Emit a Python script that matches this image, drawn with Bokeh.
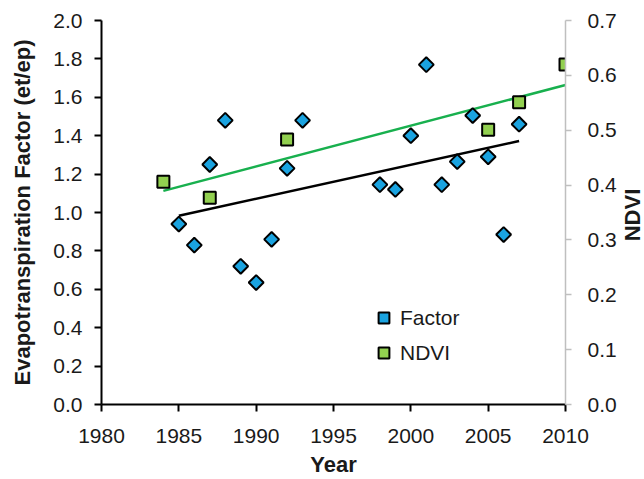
import numpy as np
from bokeh.plotting import figure
from bokeh.models import (Range1d, LinearAxis, FixedTicker, Legend, LegendItem,
                          NumeralTickFormatter, Label)
from bokeh.embed import file_html
from bokeh.resources import INLINE

# ---- data ----
factor_years = [1985, 1986, 1987, 1988, 1989, 1990, 1991, 1992, 1993,
                1998, 1999, 2000, 2001, 2002, 2003, 2004, 2005, 2006, 2007]
factor_values = [0.94, 0.83, 1.25, 1.48, 0.72, 0.635, 0.86, 1.23, 1.48,
                 1.145, 1.12, 1.40, 1.77, 1.145, 1.265, 1.505, 1.29, 0.885, 1.46]
ndvi_years = [1984, 1987, 1992, 2005, 2007, 2010]
ndvi_values = [0.406, 0.377, 0.483, 0.501, 0.551, 0.62]

x_ticks = [1980, 1985, 1990, 1995, 2000, 2005, 2010]
left_ticks = [0.0, 0.2, 0.4, 0.6, 0.8, 1.0, 1.2, 1.4, 1.6, 1.8, 2.0]
right_ticks = [0.0, 0.1, 0.2, 0.3, 0.4, 0.5, 0.6, 0.7]

# linear trend lines (least squares of each series)
fs, fi = np.polyfit(factor_years, factor_values, 1)
ns, ni = np.polyfit(ndvi_years, ndvi_values, 1)
factor_trend_x = [min(factor_years), max(factor_years)]
factor_trend_y = [fs * x + fi for x in factor_trend_x]
ndvi_trend_x = [min(ndvi_years), max(ndvi_years)]
ndvi_trend_y = [ns * x + ni for x in ndvi_trend_x]

FONT = "Liberation Sans"
TXT = "#1a1a1a"

p = figure(width=644, height=479, output_backend="svg", toolbar_location=None,
           x_range=Range1d(1980, 2010), y_range=Range1d(0, 2.0),
           min_border_left=101, min_border_right=79, min_border_top=20,
           min_border_bottom=75, x_axis_type=None, y_axis_type=None)
p.extra_y_ranges = {"ndvi": Range1d(0, 0.7)}
p.outline_line_color = None
p.background_fill_color = "white"


def style_axis(ax, color, width, out, standoff):
    ax.axis_line_width = width
    ax.axis_line_color = color
    ax.major_tick_line_width = width
    ax.major_tick_line_color = color
    ax.major_tick_out = out
    ax.major_tick_in = 0
    ax.minor_tick_line_color = None
    ax.major_label_standoff = standoff
    ax.major_label_text_font = FONT
    ax.major_label_text_font_size = "21px"
    ax.major_label_text_color = TXT
    ax.axis_label_text_font = FONT
    ax.axis_label_text_font_size = "22px"
    ax.axis_label_text_font_style = "bold"
    ax.axis_label_text_color = TXT


xaxis = LinearAxis(ticker=FixedTicker(ticks=x_ticks), axis_label="Year")
style_axis(xaxis, "black", 2, 7, 17)
xaxis.axis_label_standoff = 6
p.add_layout(xaxis, "below")

yaxis = LinearAxis(ticker=FixedTicker(ticks=left_ticks),
                   formatter=NumeralTickFormatter(format="0.0"),
                   axis_label="Evapotranspiration Factor (et/ep)")
style_axis(yaxis, "black", 2, 7, 12)
yaxis.axis_label_standoff = 15
p.add_layout(yaxis, "left")

raxis = LinearAxis(y_range_name="ndvi", ticker=FixedTicker(ticks=right_ticks),
                   formatter=NumeralTickFormatter(format="0.0"))
style_axis(raxis, "#BFBFBF", 1.5, 6, 16)
p.add_layout(raxis, "right")

# right-hand axis title (reads bottom to top, at the right edge as in the original)
p.add_layout(Label(x=2014.3, y=0.987, text="NDVI", angle=np.pi / 2,
                   text_align="center", text_baseline="middle", text_font=FONT,
                   text_font_size="22px", text_font_style="bold",
                   text_color=TXT), "right")

p.ygrid.ticker = FixedTicker(ticks=left_ticks)
p.ygrid.grid_line_color = "#BFBFBF"
p.ygrid.grid_line_width = 1.5
p.xgrid.grid_line_color = None

# trend lines
p.line(factor_trend_x, factor_trend_y, line_color="black", line_width=2.5)
p.line(ndvi_trend_x, ndvi_trend_y, line_color="#18B04E", line_width=2.5,
       y_range_name="ndvi")

# markers
r_factor = p.scatter(factor_years, factor_values, marker="square", angle=np.pi / 4,
                     size=10.5, fill_color="#1AA3E0", line_color="black",
                     line_width=2)
r_ndvi = p.scatter(ndvi_years, ndvi_values, marker="square", size=12,
                   fill_color="#92D050", line_color="black", line_width=2,
                   y_range_name="ndvi")

legend = Legend(items=[LegendItem(label="Factor", renderers=[r_factor]),
                       LegendItem(label="NDVI", renderers=[r_ndvi])],
                location=(269, 38), margin=0, padding=8, spacing=8,
                glyph_width=27, glyph_height=27, label_height=27,
                label_standoff=3, label_width=125,
                label_text_font=FONT, label_text_font_size="21px",
                label_text_color=TXT, background_fill_color="white",
                background_fill_alpha=1.0, border_line_color=None)
p.add_layout(legend)

open("out.html", "w").write(file_html(p, INLINE))
